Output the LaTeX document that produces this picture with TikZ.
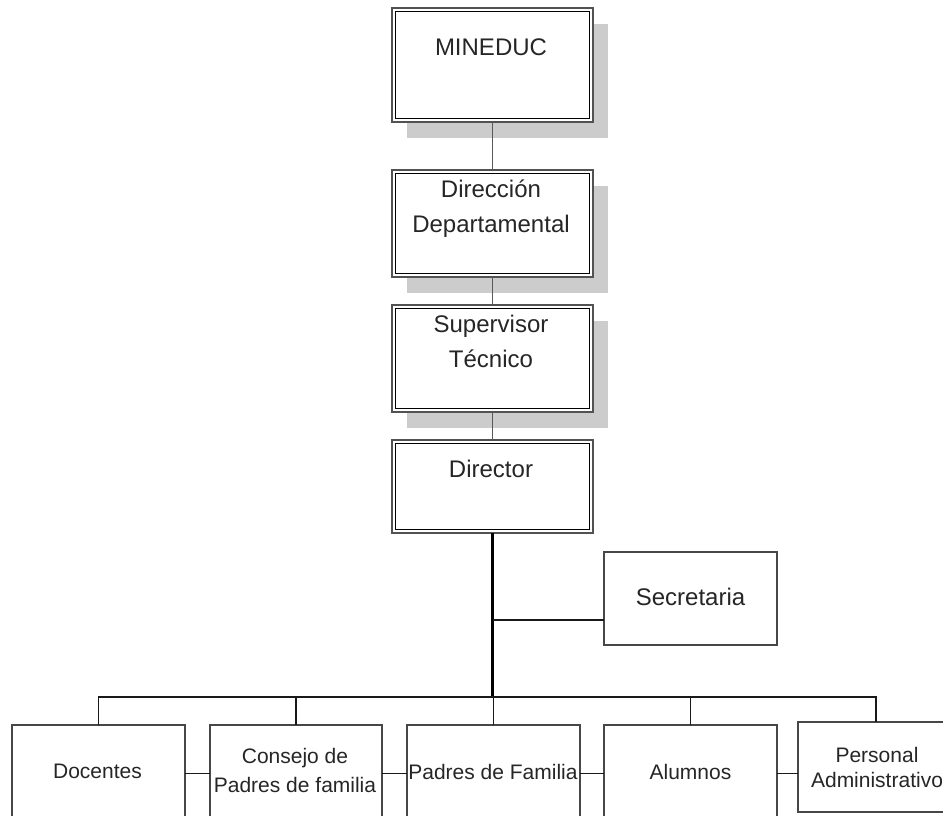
\documentclass[tikz,border=0pt]{standalone}
\usepackage{fontspec}
\setmainfont{Liberation Sans}
\usetikzlibrary{shadows}
\begin{document}
\begin{tikzpicture}[x=1pt,y=-1pt,
  topbox/.style={draw=black!68, line width=2.2pt, fill=white, minimum width=201pt, inner sep=0pt, outer sep=0pt,
    path picture={\draw[black, line width=1.3pt] ([shift={(3.4pt,3.4pt)}]path picture bounding box.south west) rectangle ([shift={(-3.4pt,-3.4pt)}]path picture bounding box.north east);}},
  shad/.style={general shadow={fill=black!20, shadow xshift=15pt, shadow yshift=-16pt}},
  lowbox/.style={draw=black!72, line width=1.5pt, fill=white, inner sep=0pt, outer sep=0pt},
  bigtxt/.style={font=\fontsize{24}{28}\selectfont, text=black!85, anchor=base, inner sep=0pt},
  smalltxt/.style={font=\fontsize{21}{25}\selectfont, text=black!85, anchor=base, inner sep=0pt},
  uplink/.style={draw=black!65, line width=1.6pt},
  link/.style={draw=black!90, line width=1.5pt},
  trunk/.style={draw=black, line width=2.6pt}
]
\useasboundingbox (0,0) rectangle (943,816);
\clip (0,0) rectangle (943,816);

% upper chain
\node[topbox, shad, minimum height=114pt] (mineduc) at (492.5,65) {};
\node[topbox, shad, minimum height=107pt] (dirdep) at (492.5,223.5) {};
\node[topbox, shad, minimum height=107pt] (suptec) at (492.5,358.5) {};
\node[topbox, minimum height=93pt] (director) at (492.5,486.5) {};

% secretaria
\node[lowbox, minimum width=173pt, minimum height=93pt] (secre) at (690.5,598.5) {};

% bottom row
\node[lowbox, minimum width=173pt, minimum height=97pt] (doc) at (98.5,773.5) {};
\node[lowbox, minimum width=172pt, minimum height=97pt] (consejo) at (296,773.5) {};
\node[lowbox, minimum width=173pt, minimum height=97pt] (padres) at (493.5,773.5) {};
\node[lowbox, minimum width=173pt, minimum height=97pt] (alum) at (690.5,773.5) {};
\node[lowbox, minimum width=156pt, minimum height=90pt] (pers) at (876,767) {};

% connectors
\draw[uplink] (mineduc.south) -- (dirdep.north);
\draw[uplink] (dirdep.south) -- (suptec.north);
\draw[uplink] (suptec.south) -- (director.north);
\draw[trunk] (director.south) -- ++(0,164) coordinate (busc);
\coordinate (secj) at (492.5,620);
\draw[link] (secj) -- (secj -| secre.west);
\draw[link] (doc.north) -- (doc.north |- busc) -- (pers.north |- busc) -- (pers.north);
\draw[link] (consejo.north) -- (consejo.north |- busc);
\draw[link] (padres.north) -- (padres.north |- busc);
\draw[link] (alum.north) -- (alum.north |- busc);
\draw[link] (doc.east) -- (consejo.west);
\draw[link] (consejo.east) -- (padres.west);
\draw[link] (padres.east) -- (alum.west);
\draw[link] (alum.east) -- (alum.east -| pers.west);

% texts
\node[bigtxt] (tmin) at (491,55.5) {MINEDUC};
\node[bigtxt] (tdir1) at (491,197) {Dirección};
\node[bigtxt] (tdir2) at (491,232) {Departamental};
\node[bigtxt] (tsup1) at (491,332) {Supervisor};
\node[bigtxt] (tsup2) at (491,367) {Técnico};
\node[bigtxt] (tdtr) at (491,477) {Director};
\node[bigtxt] (tsec) at (690.5,605) {Secretaria};
\node[smalltxt] (tdoc) at (97.5,778) {Docentes};
\node[smalltxt] (tcon1) at (295,763) {Consejo de};
\node[smalltxt] (tcon2) at (295,792) {Padres de familia};
\node[smalltxt] (tpad) at (493,779) {Padres de Familia};
\node[smalltxt] (talu) at (690.5,779) {Alumnos};
\node[smalltxt] (tper1) at (877,762) {Personal};
\node[smalltxt] (tper2) at (877,787) {Administrativo};
\end{tikzpicture}
\end{document}
